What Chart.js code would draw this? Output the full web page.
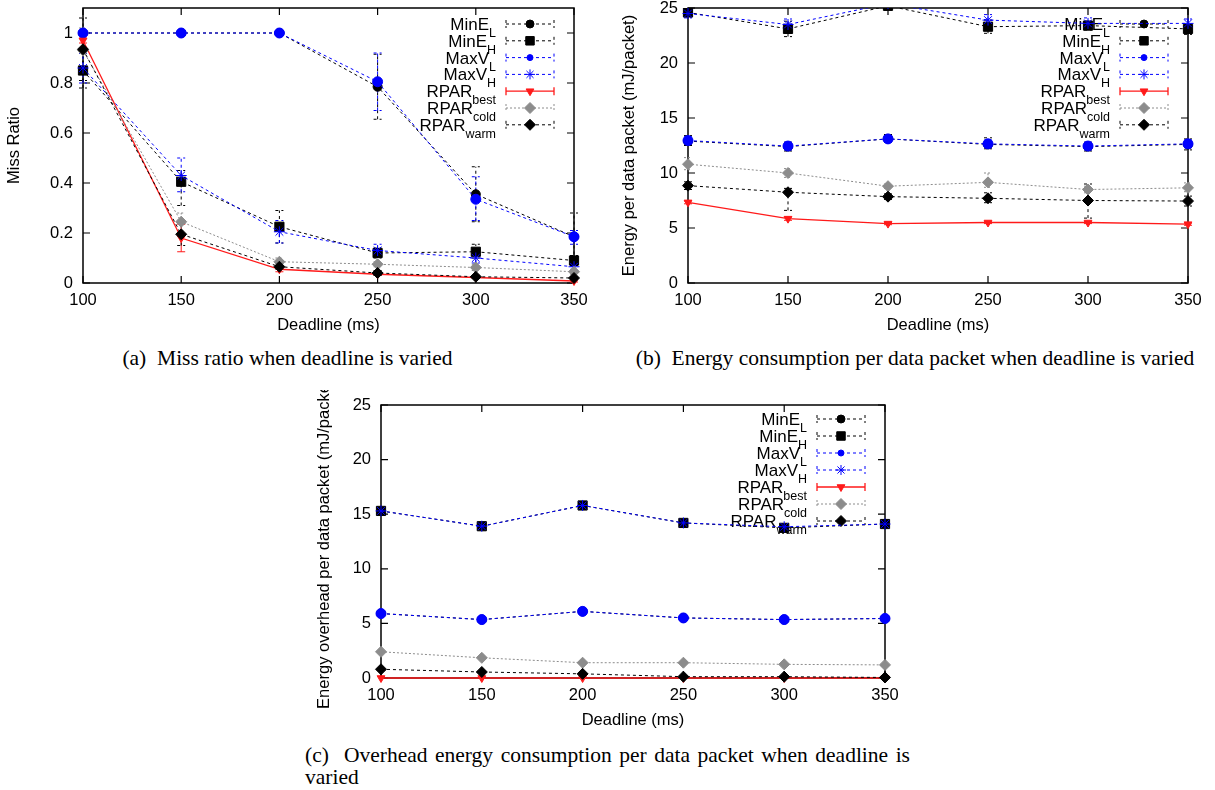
<!DOCTYPE html>
<html>
<head>
<meta charset="utf-8">
<script src="https://cdn.jsdelivr.net/npm/chart.js@4.4.1/dist/chart.umd.min.js"></script>
<style>
  body { margin: 0; background: #fff; width: 1215px; height: 790px; position: relative; overflow: hidden; }
  canvas { position: absolute; }
  .cap { position: absolute; font-family: "Liberation Serif", "Times New Roman", serif; font-size: 21.5px; line-height: 22px; color: #000; }
</style>
</head>
<body>
<canvas id="missChart" style="left:0;top:0" width="600" height="340"></canvas>
<canvas id="energyChart" style="left:610px;top:0" width="605" height="340"></canvas>
<canvas id="overheadChart" style="left:300px;top:390px" width="610" height="345"></canvas>
<div class="cap" style="left:0;top:347px;width:575px;text-align:center;white-space:nowrap">(a)&nbsp;&nbsp;Miss ratio when deadline is varied</div>
<div class="cap" style="left:620px;top:347px;width:590px;text-align:center;white-space:nowrap">(b)&nbsp;&nbsp;Energy consumption per data packet when deadline is varied</div>
<div class="cap" style="left:305px;top:744px;width:605px;text-align:justify;text-align-last:left">(c)&nbsp;&nbsp;Overhead energy consumption per data packet when deadline is varied</div>
<script>
const deadlines = [100, 150, 200, 250, 300, 350];
const missTicks = [0, 0.2, 0.4, 0.6, 0.8, 1];
const energyTicks = [0, 5, 10, 15, 20, 25];

// (a) miss ratio
const missMinEL = [1.0, 1.0, 1.0, 0.785, 0.355, 0.185];
const missMinELLow = [1.0, 1.0, 1.0, 0.655, 0.245, 0.09];
const missMinELHigh = [1.0, 1.0, 1.0, 0.915, 0.465, 0.28];
const missMinEH = [0.85, 0.405, 0.225, 0.12, 0.125, 0.09];
const missMinEHLow = [0.78, 0.31, 0.16, 0.10, 0.10, 0.07];
const missMinEHHigh = [0.92, 0.45, 0.29, 0.14, 0.155, 0.11];
const missMaxVL = [1.0, 1.0, 1.0, 0.805, 0.335, 0.185];
const missMaxVLLow = [1.0, 1.0, 1.0, 0.69, 0.25, 0.155];
const missMaxVLHigh = [1.0, 1.0, 1.0, 0.92, 0.425, 0.21];
const missMaxVH = [0.86, 0.43, 0.205, 0.13, 0.10, 0.065];
const missMaxVHLow = [0.80, 0.365, 0.16, 0.11, 0.08, 0.05];
const missMaxVHHigh = [0.92, 0.50, 0.25, 0.155, 0.12, 0.08];
const missBest = [0.97, 0.18, 0.055, 0.035, 0.022, 0.008];
const missBestLow = [0.96, 0.125, 0.045, 0.03, 0.018, 0.004];
const missBestHigh = [0.98, 0.235, 0.065, 0.04, 0.026, 0.012];
const missCold = [0.93, 0.245, 0.085, 0.075, 0.062, 0.045];
const missColdLow = [0.84, 0.21, 0.07, 0.065, 0.05, 0.035];
const missColdHigh = [1.02, 0.28, 0.10, 0.085, 0.075, 0.055];
const missWarm = [0.935, 0.195, 0.065, 0.04, 0.025, 0.02];
const missWarmLow = [0.81, 0.15, 0.055, 0.03, 0.02, 0.015];
const missWarmHigh = [1.06, 0.24, 0.08, 0.05, 0.03, 0.025];

// (b) energy per data packet
const energyMinEL = [12.9, 12.4, 13.1, 12.6, 12.4, 12.6];
const energyMinELLow = [12.5, 12.0, 12.8, 12.2, 12.0, 12.1];
const energyMinELHigh = [13.4, 12.8, 13.5, 13.2, 12.8, 13.1];
const energyMinEH = [24.6, 23.1, 25.2, 23.3, 23.4, 23.1];
const energyMinEHLow = [24.2, 22.4, 24.8, 22.7, 23.0, 22.6];
const energyMinEHHigh = [25.0, 23.8, 25.6, 23.9, 23.8, 23.5];
const energyMaxVL = [12.95, 12.45, 13.1, 12.65, 12.45, 12.65];
const energyMaxVLLow = [12.6, 12.1, 12.8, 12.3, 12.1, 12.3];
const energyMaxVLHigh = [13.3, 12.8, 13.4, 13.0, 12.8, 13.0];
const energyMaxVH = [24.5, 23.5, 25.4, 23.9, 23.6, 23.6];
const energyMaxVHLow = [24.1, 23.0, 25.0, 23.4, 23.1, 23.2];
const energyMaxVHHigh = [24.9, 24.0, 25.8, 24.4, 24.1, 24.0];
const energyBest = [7.33, 5.85, 5.4, 5.5, 5.5, 5.35];
const energyBestLow = [7.2, 5.7, 5.3, 5.4, 5.4, 5.25];
const energyBestHigh = [7.45, 6.0, 5.5, 5.6, 5.6, 5.45];
const energyCold = [10.8, 10.0, 8.8, 9.15, 8.5, 8.65];
const energyColdLow = [10.3, 9.6, 8.6, 8.7, 8.2, 8.3];
const energyColdHigh = [11.4, 10.4, 9.0, 10.0, 8.8, 9.1];
const energyWarm = [8.85, 8.25, 7.85, 7.7, 7.5, 7.45];
const energyWarmLow = [8.5, 6.6, 7.6, 7.3, 5.9, 7.0];
const energyWarmHigh = [9.2, 8.6, 8.1, 8.2, 9.0, 7.9];

// (c) overhead energy per data packet
const overheadMinEL = [5.9, 5.35, 6.1, 5.5, 5.35, 5.45];
const overheadMinEH = [15.3, 13.9, 15.8, 14.2, 13.75, 14.1];
const overheadMaxVL = [5.9, 5.35, 6.1, 5.5, 5.35, 5.45];
const overheadMaxVH = [15.3, 13.9, 15.8, 14.2, 13.85, 14.1];
const overheadBest = [0, 0, 0, 0, 0, 0];
const overheadCold = [2.4, 1.85, 1.4, 1.4, 1.25, 1.2];
const overheadWarm = [0.8, 0.55, 0.38, 0.12, 0.12, 0.05];

const FONT = '"Liberation Sans", Arial, Helvetica, sans-serif';
const mainFont = '17px ' + FONT;
const subFont = '12.5px ' + FONT;

const seriesStyles = [
    { name: 'MinE', sub: 'L', color: '#000000', dash: [3, 3], point: 'circle', radius: 4.5, keyRadius: 4 },
    { name: 'MinE', sub: 'H', color: '#000000', dash: [3, 3], point: 'rect', radius: 6.5, keyRadius: 6 },
    { name: 'MaxV', sub: 'L', color: '#0000ff', dash: [3, 3], point: 'circle', radius: 5, keyRadius: 3 },
    { name: 'MaxV', sub: 'H', color: '#0000ff', dash: [3, 3], point: 'star', radius: 5.5, keyRadius: 5 },
    { name: 'RPAR', sub: 'best', color: '#ff1a1a', dash: [], point: 'triangle', radius: 4.5, keyRadius: 4.5, rotation: 180, width: 1.3 },
    { name: 'RPAR', sub: 'cold', color: '#8c8c8c', dash: [2, 2], point: 'rectRot', radius: 5.5, keyRadius: 5.5 },
    { name: 'RPAR', sub: 'warm', color: '#000000', dash: [3, 3], point: 'rectRot', radius: 5.5, keyRadius: 5.5 }
];

function makeDatasets(values, lows, highs) {
    return seriesStyles.map((s, i) => ({
        label: s.name + s.sub,
        data: deadlines.map((d, j) => ({ x: d, y: values[i][j] })),
        errLow: lows ? lows[i] : null,
        errHigh: highs ? highs[i] : null,
        borderColor: s.color,
        borderWidth: s.width || 1,
        borderDash: s.dash,
        pointStyle: s.point,
        pointRadius: s.radius,
        pointRotation: s.rotation || 0,
        pointBackgroundColor: s.color,
        pointBorderColor: s.color,
        pointBorderWidth: 1,
        tension: 0,
        fill: false,
        order: seriesStyles.length - i, // later series on top, like gnuplot
        clip: { left: 12, right: 12, top: 0, bottom: 12 }
    }));
}

// border with inward ticks on all four sides
const framePlugin = {
    id: 'frame',
    beforeDatasetsDraw(chart) {
        const { ctx, chartArea: a, scales: { x, y } } = chart;
        ctx.save();
        ctx.setLineDash([]);
        ctx.strokeStyle = '#000';
        ctx.lineWidth = 1.5;
        ctx.strokeRect(a.left, a.top, a.width, a.height);
        ctx.lineWidth = 1.2;
        ctx.beginPath();
        x.ticks.forEach(t => {
            const px = x.getPixelForValue(t.value);
            ctx.moveTo(px, a.bottom); ctx.lineTo(px, a.bottom - 7);
            ctx.moveTo(px, a.top); ctx.lineTo(px, a.top + 7);
        });
        y.ticks.forEach(t => {
            const py = y.getPixelForValue(t.value);
            ctx.moveTo(a.left, py); ctx.lineTo(a.left + 7, py);
            ctx.moveTo(a.right, py); ctx.lineTo(a.right - 7, py);
        });
        ctx.stroke();
        ctx.restore();
    }
};

// gnuplot style key, drawn under the data
const keyPlugin = {
    id: 'gnuKey',
    beforeDatasetsDraw(chart, args, opts) {
        const { ctx, chartArea: a } = chart;
        ctx.save();
        seriesStyles.forEach((s, i) => {
            const rowY = a.top + opts.first + i * opts.step;
            const x0 = a.right - 68, x1 = a.right - 20, xm = a.right - 44;
            ctx.strokeStyle = s.color;
            ctx.fillStyle = s.color;
            ctx.lineWidth = s.width || 1;
            ctx.setLineDash(s.dash);
            ctx.beginPath();
            ctx.moveTo(x0, rowY); ctx.lineTo(x1, rowY);
            ctx.moveTo(x0, rowY - 4); ctx.lineTo(x0, rowY + 4);
            ctx.moveTo(x1, rowY - 4); ctx.lineTo(x1, rowY + 4);
            ctx.stroke();
            ctx.setLineDash([]);
            ctx.lineWidth = 1;
            Chart.helpers.drawPoint(ctx, { pointStyle: s.point, radius: s.keyRadius, rotation: s.rotation || 0, borderWidth: 1 }, xm, rowY);

            ctx.fillStyle = '#000';
            ctx.textAlign = 'left';
            ctx.textBaseline = 'alphabetic';
            ctx.font = subFont;
            const sw = ctx.measureText(s.sub).width;
            ctx.font = mainFont;
            const mw = ctx.measureText(s.name).width;
            const xr = a.right - 78;
            ctx.fillText(s.name, xr - sw - mw, rowY + 6);
            ctx.font = subFont;
            ctx.fillText(s.sub, xr - sw, rowY + 13);
        });
        ctx.restore();
    }
};

const errorBarPlugin = {
    id: 'errorBars',
    beforeDatasetsDraw(chart) {
        const { ctx, chartArea: a, scales: { x, y } } = chart;
        ctx.save();
        ctx.beginPath();
        ctx.rect(a.left - 10, a.top, a.width + 20, a.height);
        ctx.clip();
        chart.data.datasets.forEach(ds => {
            if (!ds.errLow) return;
            ctx.strokeStyle = ds.borderColor;
            ctx.lineWidth = 1;
            ctx.setLineDash(ds.borderDash);
            ds.data.forEach((p, j) => {
                if (ds.errLow[j] === ds.errHigh[j]) return;
                const px = x.getPixelForValue(p.x);
                const lo = y.getPixelForValue(ds.errLow[j]);
                const hi = y.getPixelForValue(ds.errHigh[j]);
                ctx.beginPath();
                ctx.moveTo(px, lo); ctx.lineTo(px, hi);
                ctx.moveTo(px - 4, lo); ctx.lineTo(px + 4, lo);
                ctx.moveTo(px - 4, hi); ctx.lineTo(px + 4, hi);
                ctx.stroke();
            });
        });
        ctx.restore();
    }
};

function buildChart(id, datasets, cfg) {
    return new Chart(document.getElementById(id), {
        type: 'line',
        data: { datasets },
        options: {
            responsive: false,
            animation: false,
            devicePixelRatio: 1,
            events: [],
            layout: { padding: { left: 0, right: cfg.right, top: cfg.top, bottom: 0 } },
            plugins: {
                legend: { display: false },
                tooltip: { enabled: false },
                gnuKey: { first: cfg.keyFirst, step: cfg.keyStep }
            },
            scales: {
                x: {
                    type: 'linear',
                    min: 100,
                    max: 350,
                    afterBuildTicks: s => { s.ticks = deadlines.map(v => ({ value: v })); },
                    afterFit: s => { s.height = cfg.xHeight; s.paddingLeft = 0; s.paddingRight = 0; },
                    grid: { display: false, drawTicks: false, tickLength: 0 },
                    border: { display: false },
                    ticks: { color: '#000', font: { family: FONT, size: 16.5 }, padding: 8, maxRotation: 0, autoSkip: false, callback: v => String(v) },
                    title: { display: true, text: 'Deadline (ms)', color: '#000', font: { family: FONT, size: 16.5 }, padding: { top: 0, bottom: 5 } }
                },
                y: {
                    type: 'linear',
                    min: 0,
                    max: cfg.yMax,
                    afterBuildTicks: s => { s.ticks = cfg.yTicks.map(v => ({ value: v })); },
                    afterFit: s => { s.width = cfg.yWidth; s.paddingTop = 0; s.paddingBottom = 0; },
                    grid: { display: false, drawTicks: false, tickLength: 0 },
                    border: { display: false },
                    ticks: { color: '#000', font: { family: FONT, size: 16.5 }, padding: 10, autoSkip: false, callback: v => String(v) },
                    title: { display: true, text: cfg.yTitle, color: '#000', font: { family: FONT, size: 16.5 }, padding: { top: cfg.yTitlePad, bottom: 0 } }
                }
            }
        },
        plugins: [framePlugin, keyPlugin, errorBarPlugin]
    });
}

buildChart('missChart',
    makeDatasets(
        [missMinEL, missMinEH, missMaxVL, missMaxVH, missBest, missCold, missWarm],
        [missMinELLow, missMinEHLow, missMaxVLLow, missMaxVHLow, missBestLow, missColdLow, missWarmLow],
        [missMinELHigh, missMinEHHigh, missMaxVLHigh, missMaxVHHigh, missBestHigh, missColdHigh, missWarmHigh]),
    { right: 26, top: 8, xHeight: 57, yWidth: 83, yMax: 1.1, yTicks: missTicks, yTitle: 'Miss Ratio', yTitlePad: 5, keyFirst: 16, keyStep: 16.8 });

buildChart('energyChart',
    makeDatasets(
        [energyMinEL, energyMinEH, energyMaxVL, energyMaxVH, energyBest, energyCold, energyWarm],
        [energyMinELLow, energyMinEHLow, energyMaxVLLow, energyMaxVHLow, energyBestLow, energyColdLow, energyWarmLow],
        [energyMinELHigh, energyMinEHHigh, energyMaxVLHigh, energyMaxVHHigh, energyBestHigh, energyColdHigh, energyWarmHigh]),
    { right: 27, top: 8, xHeight: 57, yWidth: 78, yMax: 25, yTicks: energyTicks, yTitle: 'Energy per data packet (mJ/packet)', yTitlePad: 10, keyFirst: 16, keyStep: 16.8 });

buildChart('overheadChart',
    makeDatasets(
        [overheadMinEL, overheadMinEH, overheadMaxVL, overheadMaxVH, overheadBest, overheadCold, overheadWarm],
        null, null),
    { right: 25, top: 15, xHeight: 57, yWidth: 81, yMax: 25, yTicks: energyTicks, yTitle: 'Energy overhead per data packet (mJ/packet)', yTitlePad: 15, keyFirst: 14, keyStep: 17 });
</script>
</body>
</html>
